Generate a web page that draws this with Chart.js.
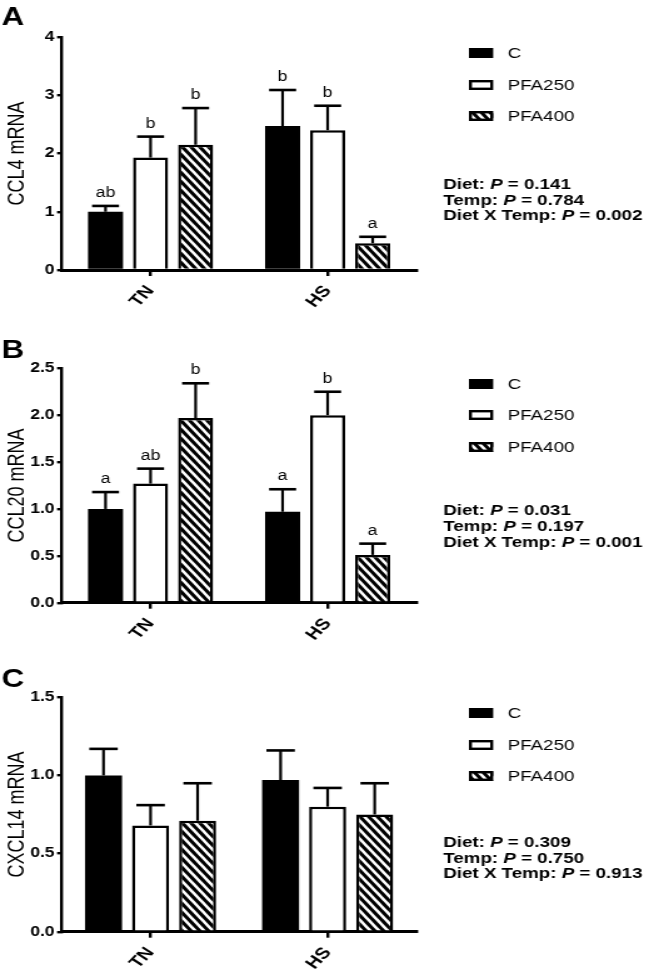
<!DOCTYPE html>
<html>
<head>
<meta charset="utf-8">
<script src="https://cdn.jsdelivr.net/npm/chart.js@4.4.1/dist/chart.umd.min.js"></script>
<style>
  html, body { margin: 0; padding: 0; background: #fff; }
  body { width: 654px; height: 973px; position: relative; overflow: hidden; }
  /* the source figure is stretched sideways, so each panel is drawn narrow and widened */
  canvas { position: absolute; left: 0; transform-origin: 0 0; transform: scaleX(1.2505); }
</style>
</head>
<body>
<canvas id="panelA" width="523" height="320" style="top:0px"></canvas>
<canvas id="panelB" width="523" height="320" style="top:320px"></canvas>
<canvas id="panelC" width="523" height="333" style="top:640px"></canvas>
<script>
const FONT = '"Liberation Sans", Arial, sans-serif';

const groups = ['TN', 'HS'];
const diets = ['C', 'PFA250', 'PFA400'];
const statNames = ['Diet: ', 'Temp: ', 'Diet X Temp: '];

// A - CCL4 (rows: C, PFA250, PFA400; cols: TN, HS)
const ccl4Means = [[1.00, 2.47], [1.93, 2.40], [2.15, 0.46]];
const ccl4Sem = [[0.10, 0.62], [0.36, 0.42], [0.63, 0.11]];
const ccl4Letters = [['ab', 'b'], ['b', 'b'], ['b', 'a']];
const ccl4P = ['0.141', '0.784', '0.002'];

// B - CCL20
const ccl20Means = [[1.00, 0.97], [1.27, 2.00], [1.97, 0.51]];
const ccl20Sem = [[0.18, 0.24], [0.16, 0.25], [0.37, 0.12]];
const ccl20Letters = [['a', 'a'], ['ab', 'b'], ['b', 'a']];
const ccl20P = ['0.031', '0.197', '0.001'];

// C - CXCL14
const cxcl14Means = [[1.00, 0.97], [0.68, 0.80], [0.71, 0.75]];
const cxcl14Sem = [[0.17, 0.19], [0.13, 0.12], [0.24, 0.20]];
const cxcl14P = ['0.309', '0.750', '0.913'];

function hatchTile() {
  const c = document.createElement('canvas');
  c.width = 7; c.height = 9;
  const g = c.getContext('2d');
  g.fillStyle = '#000';
  g.fillRect(0, 0, 7, 9);
  g.strokeStyle = '#fff';
  g.lineWidth = 2.6;
  [-7, 0, 7].forEach(dx => {
    g.beginPath();
    g.moveTo(dx - 7, -9);
    g.lineTo(dx + 14, 18);
    g.stroke();
  });
  return c;
}

const errorBars = {
  id: 'errorBars',
  afterDatasetsDraw(chart) {
    const { ctx } = chart;
    const y = chart.scales.y;
    ctx.save();
    ctx.strokeStyle = '#000';
    ctx.fillStyle = '#000';
    chart.data.datasets.forEach((ds, i) => {
      chart.getDatasetMeta(i).data.forEach((bar, j) => {
        const top = y.getPixelForValue(ds.data[j] + ds.sem[j]);
        const half = bar.width * 0.385;
        ctx.lineWidth = 2.2;
        ctx.beginPath();
        ctx.moveTo(bar.x, bar.y);
        ctx.lineTo(bar.x, top);
        ctx.stroke();
        ctx.lineWidth = 2.6;
        ctx.beginPath();
        ctx.moveTo(bar.x - half, top);
        ctx.lineTo(bar.x + half, top);
        ctx.stroke();
        if (ds.letters) {
          ctx.font = '14px ' + FONT;
          ctx.textAlign = 'center';
          ctx.textBaseline = 'alphabetic';
          ctx.fillText(ds.letters[j], bar.x, top - 9);
        }
      });
    });
    ctx.restore();
  }
};

function sideText(cfg) {
  return {
    id: 'sideText',
    afterDraw(chart) {
      const { ctx } = chart;
      ctx.save();
      ctx.fillStyle = '#000';
      ctx.textAlign = 'left';
      ctx.textBaseline = 'alphabetic';
      ctx.font = 'bold 25px ' + FONT;
      ctx.fillText(cfg.letter, 1.2, cfg.letterY);

      // legend
      ctx.textBaseline = 'middle';
      chart.data.datasets.forEach((ds, i) => {
        const ly = cfg.legendY[i];
        ctx.fillStyle = ds.backgroundColor;
        ctx.fillRect(375, ly - 5, 19.4, 10);
        if (i > 0) {
          ctx.strokeStyle = '#000';
          ctx.lineWidth = 2.4;
          ctx.strokeRect(376.2, ly - 3.8, 17, 7.6);
        }
        ctx.fillStyle = '#000';
        ctx.font = '15px ' + FONT;
        ctx.fillText(ds.label, 406, ly + 1);
      });

      // stats
      statNames.forEach((name, i) => {
        const sy = cfg.statY[i];
        let x = 354.4;
        ctx.font = 'bold 15px ' + FONT;
        ctx.fillText(name, x, sy);
        x += ctx.measureText(name).width;
        ctx.font = 'italic bold 15px ' + FONT;
        ctx.fillText('P', x, sy);
        x += ctx.measureText('P').width;
        ctx.font = 'bold 15px ' + FONT;
        ctx.fillText(' = ' + cfg.pValues[i], x, sy);
      });
      ctx.restore();
    }
  };
}

function makePanel(id, cfg) {
  const canvas = document.getElementById(id);
  const ctx = canvas.getContext('2d');
  const fills = ['#000', '#fff', ctx.createPattern(hatchTile(), 'repeat')];
  const datasets = diets.map((name, i) => ({
    label: name,
    data: cfg.means[i],
    sem: cfg.sem[i],
    letters: cfg.letters ? cfg.letters[i] : null,
    backgroundColor: fills[i],
    borderColor: '#000',
    borderWidth: i === 0 ? 0 : 2.5,
    categoryPercentage: cfg.catPct,
    barPercentage: cfg.barPct
  }));
  const tickFont = { family: FONT, size: 14, weight: 'bold' };
  new Chart(ctx, {
    type: 'bar',
    data: { labels: groups, datasets: datasets },
    options: {
      responsive: false,
      animation: false,
      devicePixelRatio: 1,
      layout: { padding: { top: cfg.top, right: 190.2, left: 0, bottom: 0 } },
      plugins: { legend: { display: false }, tooltip: { enabled: false } },
      scales: {
        x: {
          grid: { offset: false, drawOnChartArea: false, drawTicks: true, tickLength: 6, color: '#000', lineWidth: 2.4 },
          border: { color: '#000', width: 3 },
          ticks: { color: '#000', font: { family: FONT, size: 16, weight: 'bold' }, minRotation: 51, maxRotation: 51, padding: 6 },
          afterFit: s => { s.height = cfg.xHeight; }
        },
        y: {
          min: 0,
          max: cfg.yMax,
          ticks: { stepSize: cfg.yStep, color: '#000', font: tickFont, padding: 2, callback: v => v.toFixed(cfg.decimals) },
          grid: { drawOnChartArea: false, tickLength: 4, color: '#000', lineWidth: 2.4 },
          border: { color: '#000', width: 2.4 },
          title: { display: true, text: cfg.title, color: '#000', font: { family: FONT, size: 18 }, padding: { top: 3, bottom: 0 } },
          afterFit: s => { s.width = 49.6; }
        }
      }
    },
    plugins: [errorBars, sideText(cfg)]
  });
}

makePanel('panelA', {
  means: ccl4Means, sem: ccl4Sem, letters: ccl4Letters, pValues: ccl4P,
  title: 'CCL4 mRNA', yMax: 4, yStep: 1, decimals: 0,
  top: 37, xHeight: 50, catPct: 0.763, barPct: 0.778,
  letter: 'A', letterY: 25, legendY: [53, 85, 116], statY: [185, 200.5, 216]
});

makePanel('panelB', {
  means: ccl20Means, sem: ccl20Sem, letters: ccl20Letters, pValues: ccl20P,
  title: 'CCL20 mRNA', yMax: 2.5, yStep: 0.5, decimals: 1,
  top: 48.3, xHeight: 37.3, catPct: 0.763, barPct: 0.778,
  letter: 'B', letterY: 38, legendY: [64, 95, 127], statY: [191, 206.7, 222.7]
});

makePanel('panelC', {
  means: cxcl14Means, sem: cxcl14Sem, letters: null, pValues: cxcl14P,
  title: 'CXCL14 mRNA', yMax: 1.5, yStep: 0.5, decimals: 1,
  top: 57.3, xHeight: 41.3, catPct: 0.797, barPct: 0.787,
  letter: 'C', letterY: 47, legendY: [73, 105, 136], statY: [203, 218.5, 234]
});
</script>
</body>
</html>
